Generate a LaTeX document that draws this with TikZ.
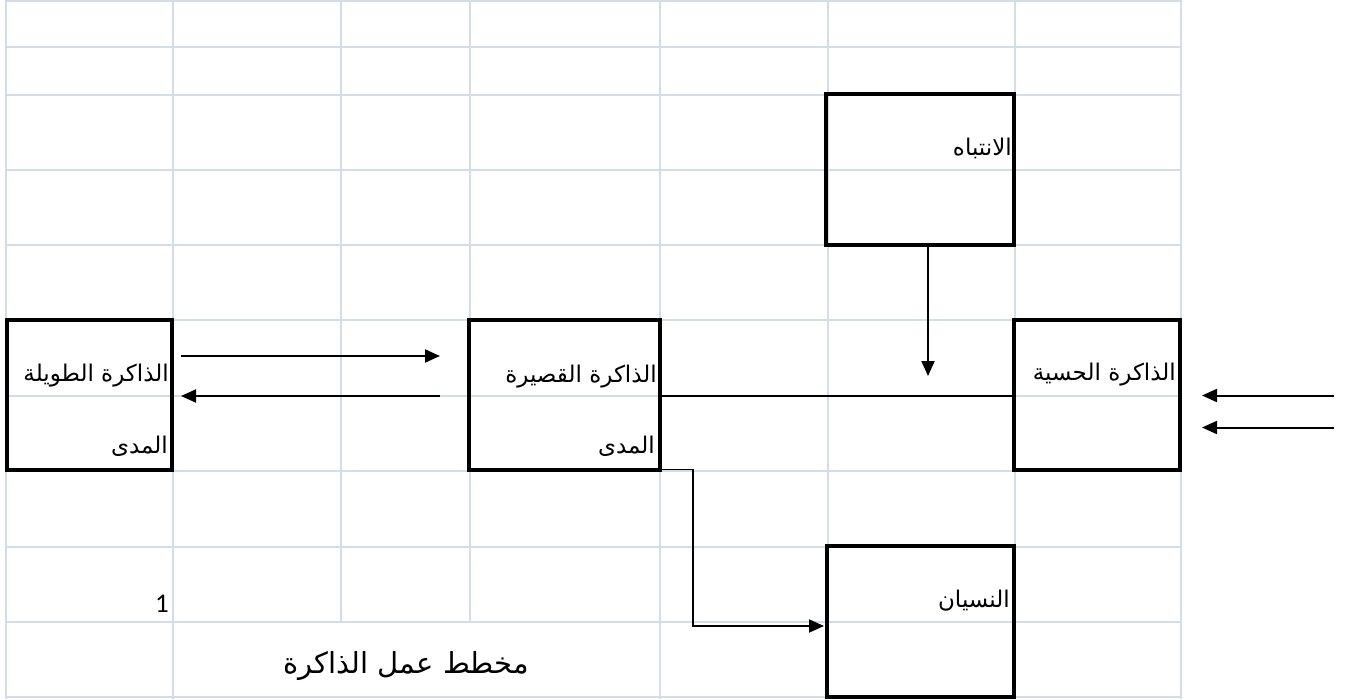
\documentclass[tikz,border=0pt]{standalone}
\usepackage{fontspec}
\usetikzlibrary{arrows.meta,calc}
\TeXXeTstate=1
\newfontfamily\arabicfont[Script=Arabic]{DejaVu Sans}
\newfontfamily\latinfont{Carlito}
\definecolor{gridc}{HTML}{D4DCE8}
\begin{document}
\begin{tikzpicture}[x=1pt,y=-1pt,
  box/.style={draw=black,line width=4pt,rectangle,inner sep=0pt,outer sep=0pt},
  lbl/.style={anchor=base east,inner sep=0pt,font=\arabicfont\fontsize{23}{23}\selectfont},
  tip/.style={-{Triangle[length=15pt,width=13pt]}},
  arr/.style={line width=2pt,tip},
  conn/.style={line width=1.8pt},
  gridline/.style={draw=gridc,line width=2pt}]
\useasboundingbox (0,0) rectangle (1346,699);
\fill[white] (0,0) rectangle (1346,699);

% grid
\foreach \x in {6,173,660,828,1015,1181} \draw[gridline] (\x,0) -- (\x,699);
\foreach \x in {341,470} \draw[gridline] (\x,0) -- (\x,622);
\foreach \y in {1,46.5,95,170,245,320,396,471,547,622,697} \draw[gridline] (6,\y) -- (1181,\y);

% boxes
\node[box,minimum width=188pt,minimum height=151pt] (att) at (920,169.5) {};
\node[box,minimum width=165pt,minimum height=150pt] (ltm) at (89.5,395) {};
\node[box,minimum width=191pt,minimum height=150pt] (stm) at (564.5,395) {};
\node[box,minimum width=166pt,minimum height=150pt] (sens) at (1097,395) {};
\node[box,minimum width=187pt,minimum height=151pt] (forg) at (920.5,621.5) {};

% labels
\node[lbl] (tatt) at (1012,155) {\beginR الانتباه\endR};
\node[lbl] (tltm1) at (169,381) {\beginR الذاكرة الطويلة\endR};
\node[lbl] (tltm2) at (168,453) {\beginR المدى\endR};
\node[lbl] (tstm1) at (657,382) {\beginR الذاكرة القصيرة\endR};
\node[lbl] (tstm2) at (655,453) {\beginR المدى\endR};
\node[lbl] (tsens) at (1176,380) {\beginR الذاكرة الحسية\endR};
\node[lbl] (tforg) at (1010,607) {\beginR النسيان\endR};
\node[anchor=base,inner sep=0pt,font=\arabicfont\fontsize{29}{29}\selectfont] (title) at (406,673) {\beginR مخطط عمل الذاكرة\endR};
\node[anchor=base east,inner sep=0pt,font=\latinfont\fontsize{27}{27}\selectfont] (num) at (169,612) {1};

% connectors
\draw[arr] ([shift={(9,-39)}]ltm.east) -- ([shift={(-29,-39)}]stm.west);
\draw[arr] ([shift={(-29,1)}]stm.west) -- ([shift={(9,1)}]ltm.east);
\draw[conn] ([shift={(0,1)}]stm.east) -- ([shift={(0,1)}]sens.west);
\coordinate (attend) at (928,376);
\draw[arr] ([xshift=8pt]att.south) -- (attend);
\coordinate (in1) at (1334,395.5);
\coordinate (in2) at (1334,427.5);
\draw[arr] (in1) -- ([shift={(22,0.5)}]sens.east);
\draw[arr] (in2) -- ([shift={(22,32.5)}]sens.east);
\draw[conn,tip] ([shift={(0,-0.5)}]stm.south east) -- ++(33,0) |- ([shift={(-3,4.5)}]forg.west);
\end{tikzpicture}
\end{document}
